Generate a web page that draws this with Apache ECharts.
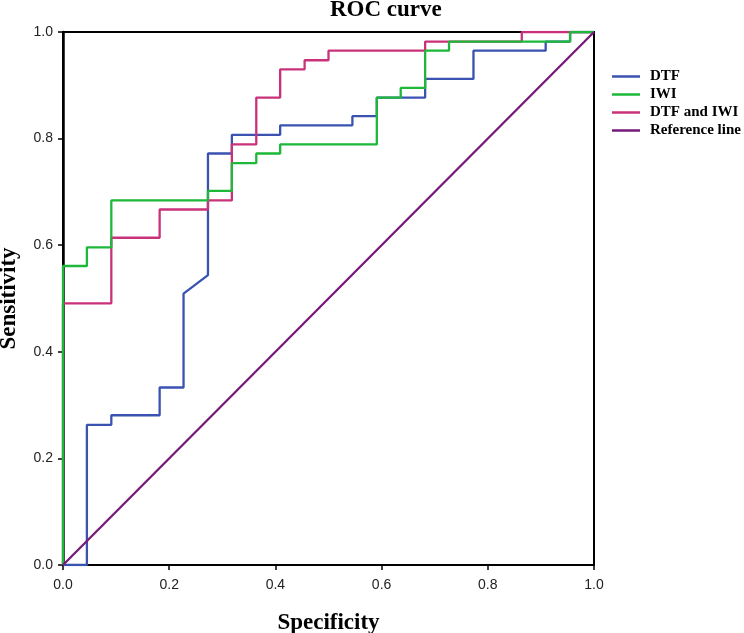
<!DOCTYPE html>
<html>
<head>
<meta charset="utf-8">
<script src="https://cdn.jsdelivr.net/npm/echarts@6/dist/echarts.min.js"></script>
<style>html,body{margin:0;padding:0;background:#fff;}#c{width:744px;height:633px;}</style>
</head>
<body>
<div id="c"></div>
<script>
// Data (x = 1 - specificity axis as drawn, y = sensitivity)
var seriesNames = ['DTF', 'IWI', 'DTF and IWI', 'Reference line'];
var xTicks = [0, 0.2, 0.4, 0.6, 0.8, 1.0];

var dtfX = [0, 0.045, 0.045, 0.091, 0.091, 0.182, 0.182, 0.227, 0.227, 0.273, 0.273, 0.318, 0.318, 0.409, 0.409, 0.545, 0.545, 0.591, 0.591, 0.682, 0.682, 0.773, 0.773, 0.909, 0.909, 0.955, 0.955, 1.0];
var dtfY = [0, 0, 0.263, 0.263, 0.281, 0.281, 0.333, 0.333, 0.509, 0.544, 0.772, 0.772, 0.807, 0.807, 0.825, 0.825, 0.842, 0.842, 0.877, 0.877, 0.912, 0.912, 0.965, 0.965, 0.982, 0.982, 1.0, 1.0];

var iwiX = [0, 0, 0.045, 0.045, 0.091, 0.091, 0.273, 0.273, 0.318, 0.318, 0.364, 0.364, 0.409, 0.409, 0.591, 0.591, 0.636, 0.636, 0.682, 0.682, 0.727, 0.727, 0.955, 0.955, 1.0];
var iwiY = [0, 0.561, 0.561, 0.596, 0.596, 0.684, 0.684, 0.702, 0.702, 0.754, 0.754, 0.772, 0.772, 0.789, 0.789, 0.877, 0.877, 0.895, 0.895, 0.965, 0.965, 0.982, 0.982, 1.0, 1.0];

var bothX = [0, 0, 0.091, 0.091, 0.182, 0.182, 0.273, 0.273, 0.318, 0.318, 0.364, 0.364, 0.409, 0.409, 0.455, 0.455, 0.5, 0.5, 0.682, 0.682, 0.864, 0.864, 1.0];
var bothY = [0, 0.491, 0.491, 0.614, 0.614, 0.667, 0.667, 0.684, 0.684, 0.789, 0.789, 0.877, 0.877, 0.930, 0.930, 0.947, 0.947, 0.965, 0.965, 0.982, 0.982, 1.0, 1.0];

var refX = [0, 1];
var refY = [0, 1];

function pairs(xs, ys) { return xs.map(function (x, i) { return [x, ys[i]]; }); }

var colors = ['#3a52b0', '#1db83a', '#c9327a', '#761a79'];
var serif = "'Liberation Serif','Times New Roman',serif";
var sans = "'Liberation Sans',Arial,sans-serif";

var chart = echarts.init(document.getElementById('c'), null, {renderer: 'canvas'});

function lineSeries(name, data, color, z) {
  return {
    name: name, type: 'line', data: data, showSymbol: false, symbol: 'none',
    lineStyle: {color: color, width: 2.3}, itemStyle: {color: color},
    z: z, animation: false, silent: true
  };
}

chart.setOption({
  animation: false,
  backgroundColor: '#fff',
  title: {
    text: 'ROC curve', left: 325, top: -6,
    textStyle: {fontFamily: serif, fontWeight: 'bold', fontSize: 23, color: '#000'}
  },
  legend: {
    orient: 'vertical', left: 607, top: 64, itemGap: 3,
    itemWidth: 28, itemHeight: 2.5, icon: 'rect',
    data: seriesNames,
    textStyle: {fontFamily: serif, fontWeight: 'bold', fontSize: 15, color: '#000', padding: [0, 0, 0, 5]}
  },
  grid: {
    left: 63, right: 150, top: 32, bottom: 68,
    outerBoundsMode: 'none', containLabel: false,
    show: true, borderColor: '#000', borderWidth: 2, backgroundColor: '#fff'
  },
  xAxis: {
    type: 'value', min: 0, max: 1, interval: 0.2,
    name: 'Specificity', nameLocation: 'middle', nameGap: 47,
    nameTextStyle: {fontFamily: serif, fontWeight: 'bold', fontSize: 23, color: '#000'},
    axisLine: {show: true, onZero: false, lineStyle: {color: '#000', width: 2}},
    axisTick: {show: true, length: 5, lineStyle: {color: '#000', width: 1.5}},
    axisLabel: {margin: 13, fontFamily: sans, fontSize: 14, color: '#222',
      formatter: function (v) { return v.toFixed(1); }},
    splitLine: {show: false}
  },
  yAxis: {
    type: 'value', min: 0, max: 1, interval: 0.2,
    name: 'Sensitivity', nameLocation: 'middle', nameGap: 42,
    nameTextStyle: {fontFamily: serif, fontWeight: 'bold', fontSize: 23, color: '#000'},
    axisLine: {show: true, onZero: false, lineStyle: {color: '#000', width: 2.5}},
    axisTick: {show: true, length: 5, lineStyle: {color: '#000', width: 1.5}},
    axisLabel: {margin: 10, fontFamily: sans, fontSize: 14, color: '#222',
      formatter: function (v) { return v.toFixed(1); }},
    splitLine: {show: false}
  },
  series: [
    lineSeries(seriesNames[0], pairs(dtfX, dtfY), colors[0], 2),
    lineSeries(seriesNames[1], pairs(iwiX, iwiY), colors[1], 4),
    lineSeries(seriesNames[2], pairs(bothX, bothY), colors[2], 3),
    lineSeries(seriesNames[3], pairs(refX, refY), colors[3], 5)
  ]
});
</script>
</body>
</html>
